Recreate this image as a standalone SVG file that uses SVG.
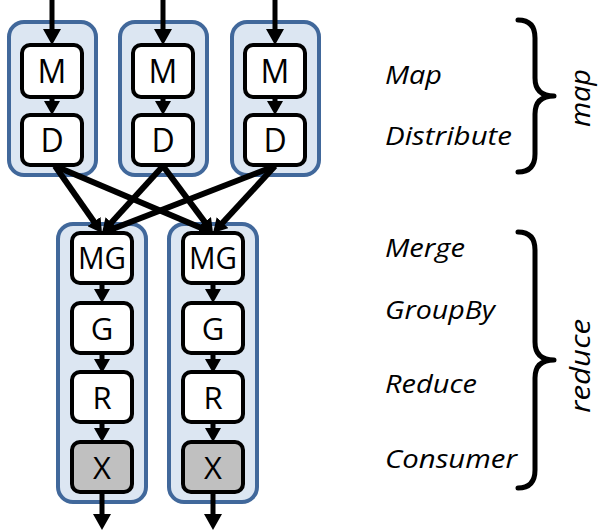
<svg xmlns="http://www.w3.org/2000/svg" width="600" height="531" viewBox="0 0 600 531">
<defs>
<marker id="ah" markerUnits="userSpaceOnUse" markerWidth="16" markerHeight="18" refX="2" refY="9" orient="auto">
<path d="M0,0 L16,9 L0,18 z" fill="#000"/>
</marker>
<marker id="ahs" markerUnits="userSpaceOnUse" markerWidth="14" markerHeight="16" refX="2" refY="8" orient="auto">
<path d="M0,0 L14,8 L0,16 z" fill="#000"/>
</marker>
<style>
.cont{fill:#dce6f2;stroke:#41689b;stroke-width:4}
.box{fill:#fff;stroke:#000;stroke-width:4}
.boxg{fill:#c0c0c0;stroke:#000;stroke-width:4}
.lbl{font-family:"Open Sans","DejaVu Sans",sans-serif;fill:#000;text-anchor:middle}
.big{font-size:32px}
.sm{font-size:31px}
.it{font-family:"Open Sans","DejaVu Sans",sans-serif;font-style:italic;font-size:26px;fill:#000}
.rot{font-family:"Open Sans","DejaVu Sans",sans-serif;font-style:italic;font-size:27px;fill:#000}
.ln{stroke:#000;stroke-width:5;fill:none}
.x{stroke:#000;stroke-width:6;fill:none}
.brace{stroke:#000;stroke-width:5;fill:none;stroke-linecap:round;stroke-linejoin:round}
</style>
</defs>

<g id="map-containers">
<rect id="mc1" class="cont" x="9" y="22" width="87" height="153" rx="15"/>
<rect id="mc2" class="cont" x="120" y="22" width="87" height="153" rx="15"/>
<rect id="mc3" class="cont" x="232" y="22" width="87" height="153" rx="15"/>
</g>
<g id="reduce-containers">
<rect id="rc1" class="cont" x="58" y="224" width="88" height="278" rx="15"/>
<rect id="rc2" class="cont" x="169" y="224" width="88" height="278" rx="15"/>
</g>

<g id="connectors">
<line class="ln" x1="52" y1="0" x2="52" y2="31" marker-end="url(#ah)"/>
<line class="ln" x1="163" y1="0" x2="163" y2="31" marker-end="url(#ah)"/>
<line class="ln" x1="275" y1="0" x2="275" y2="31" marker-end="url(#ah)"/>
<line class="ln" x1="52" y1="97" x2="52" y2="103" marker-end="url(#ahs)"/>
<line class="ln" x1="163" y1="97" x2="163" y2="103" marker-end="url(#ahs)"/>
<line class="ln" x1="275" y1="97" x2="275" y2="103" marker-end="url(#ahs)"/>
<line class="x" x1="55" y1="166" x2="95.1" y2="223.2" marker-end="url(#ahs)"/>
<line class="x" x1="55" y1="166" x2="201.9" y2="228.3" marker-end="url(#ahs)"/>
<line class="x" x1="163" y1="166" x2="110.1" y2="224.1" marker-end="url(#ahs)"/>
<line class="x" x1="163" y1="166" x2="205.8" y2="223.4" marker-end="url(#ahs)"/>
<line class="x" x1="275" y1="166" x2="113.2" y2="228.7" marker-end="url(#ahs)"/>
<line class="x" x1="275" y1="166" x2="221.2" y2="224.2" marker-end="url(#ahs)"/>
<line class="ln" x1="102" y1="283" x2="102" y2="291" marker-end="url(#ahs)"/>
<line class="ln" x1="213" y1="283" x2="213" y2="291" marker-end="url(#ahs)"/>
<line class="ln" x1="102" y1="353" x2="102" y2="361" marker-end="url(#ahs)"/>
<line class="ln" x1="213" y1="353" x2="213" y2="361" marker-end="url(#ahs)"/>
<line class="ln" x1="102" y1="422" x2="102" y2="430" marker-end="url(#ahs)"/>
<line class="ln" x1="213" y1="422" x2="213" y2="430" marker-end="url(#ahs)"/>
<line class="ln" x1="102" y1="492" x2="102" y2="516" marker-end="url(#ah)"/>
<line class="ln" x1="213" y1="492" x2="213" y2="516" marker-end="url(#ah)"/>
</g>

<g id="M1"><rect class="box" x="22" y="45" width="60" height="52" rx="8"/><text class="lbl big" x="52" y="83">M</text></g>
<g id="M2"><rect class="box" x="133" y="45" width="60" height="52" rx="8"/><text class="lbl big" x="163" y="83">M</text></g>
<g id="M3"><rect class="box" x="245" y="45" width="60" height="52" rx="8"/><text class="lbl big" x="275" y="83">M</text></g>
<g id="D1"><rect class="box" x="22" y="115" width="60" height="50" rx="8"/><text class="lbl big" x="52" y="152">D</text></g>
<g id="D2"><rect class="box" x="133" y="115" width="60" height="50" rx="8"/><text class="lbl big" x="163" y="152">D</text></g>
<g id="D3"><rect class="box" x="245" y="115" width="60" height="50" rx="8"/><text class="lbl big" x="275" y="152">D</text></g>

<g id="MG1"><rect class="box" x="72" y="233" width="60" height="50" rx="8"/><text class="lbl sm" x="102" y="269" textLength="48" lengthAdjust="spacingAndGlyphs">MG</text></g>
<g id="MG2"><rect class="box" x="183" y="233" width="60" height="50" rx="8"/><text class="lbl sm" x="213" y="269" textLength="48" lengthAdjust="spacingAndGlyphs">MG</text></g>
<g id="G1"><rect class="box" x="72" y="303" width="60" height="50" rx="8"/><text class="lbl sm" x="102" y="340">G</text></g>
<g id="G2"><rect class="box" x="183" y="303" width="60" height="50" rx="8"/><text class="lbl sm" x="213" y="340">G</text></g>
<g id="R1"><rect class="box" x="72" y="372" width="60" height="50" rx="8"/><text class="lbl sm" x="102" y="409">R</text></g>
<g id="R2"><rect class="box" x="183" y="372" width="60" height="50" rx="8"/><text class="lbl sm" x="213" y="409">R</text></g>
<g id="X1"><rect class="boxg" x="72" y="442" width="60" height="50" rx="8"/><text class="lbl sm" x="102" y="479">X</text></g>
<g id="X2"><rect class="boxg" x="183" y="442" width="60" height="50" rx="8"/><text class="lbl sm" x="213" y="479">X</text></g>

<g id="legend">
<text class="it" x="385" y="84" textLength="57" lengthAdjust="spacingAndGlyphs">Map</text>
<text class="it" x="385" y="145" textLength="127" lengthAdjust="spacingAndGlyphs">Distribute</text>
<text class="it" x="385" y="257" textLength="80" lengthAdjust="spacingAndGlyphs">Merge</text>
<text class="it" x="385" y="319" textLength="110" lengthAdjust="spacingAndGlyphs">GroupBy</text>
<text class="it" x="385" y="393" textLength="92" lengthAdjust="spacingAndGlyphs">Reduce</text>
<text class="it" x="385" y="468" textLength="132" lengthAdjust="spacingAndGlyphs">Consumer</text>
</g>

<g id="brace-map">
<path class="brace" d="M518,20 Q535,20 535,38 L535,78 Q535,96 554,96 Q535,96 535,114 L535,154 Q535,172 518,172"/>
<text class="rot" transform="translate(590,98) rotate(-90)" text-anchor="middle" textLength="58" lengthAdjust="spacingAndGlyphs">map</text>
</g>
<g id="brace-reduce">
<path class="brace" d="M518,232 Q535,232 535,250 L535,342 Q535,360 554,360 Q535,360 535,378 L535,470 Q535,488 518,488"/>
<text class="rot" transform="translate(590,366) rotate(-90)" text-anchor="middle" textLength="94" lengthAdjust="spacingAndGlyphs">reduce</text>
</g>
</svg>
